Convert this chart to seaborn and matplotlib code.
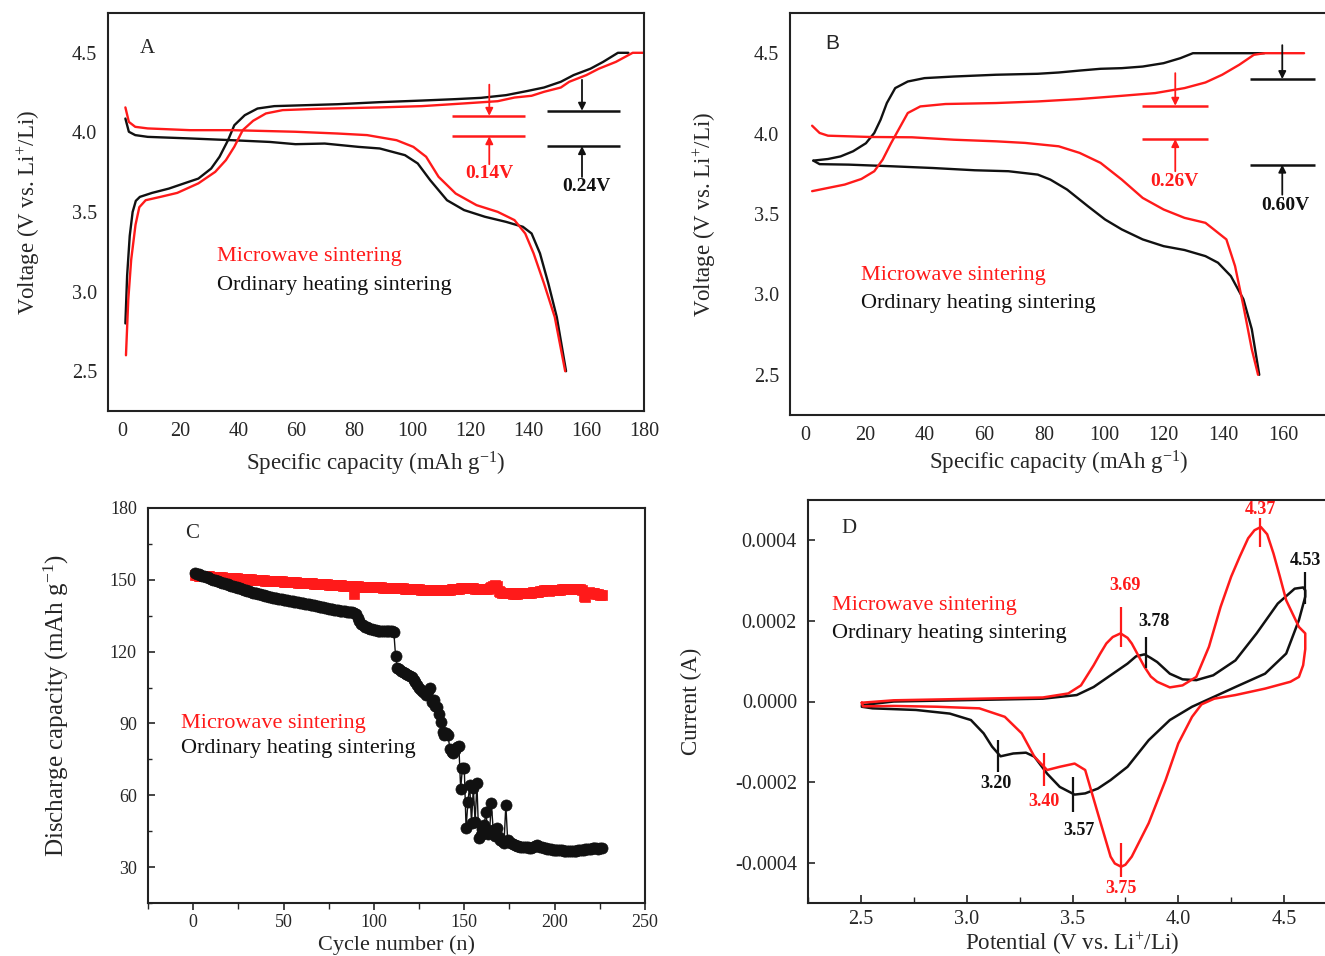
import matplotlib
matplotlib.use('Agg')
import matplotlib.pyplot as plt
import seaborn as sns
from matplotlib.ticker import MultipleLocator, FuncFormatter

# ---------------- data ----------------
# Panel A (charge/discharge, first cycle)
a_blk_chg_x = [1.0, 1.6, 2.5, 3.5, 4.6, 6.0, 10.2, 16.0, 21.8, 26.2, 30.6, 33.5, 36.4, 38.6, 42.2, 46.6, 52.4,
               59.7, 74.2, 88.8, 103.3, 115.0, 123.7, 132.4, 139.7, 145.5, 151.3, 155.7, 161.5, 165.9, 171.0, 174.6]
a_blk_chg_y = [2.80, 3.10, 3.35, 3.50, 3.57, 3.595, 3.62, 3.647, 3.683, 3.71, 3.773, 3.847, 3.95, 4.045, 4.108,
               4.15, 4.165, 4.169, 4.177, 4.19, 4.20, 4.209, 4.217, 4.234, 4.26, 4.282, 4.318, 4.36, 4.40, 4.443, 4.50, 4.50]
a_red_chg_x = [1.2, 2.0, 3.0, 4.5, 5.8, 8.0, 13.1, 18.9, 26.2, 32.0, 35.7, 38.6, 41.5, 45.1, 49.5, 55.3, 66.9,
               88.8, 103.3, 117.9, 129.5, 135.3, 141.2, 145.5, 151.3, 154.2, 160.1, 164.4, 170.3, 176.1, 180.0]
a_red_chg_y = [2.60, 2.95, 3.20, 3.42, 3.53, 3.574, 3.595, 3.62, 3.68, 3.752, 3.826, 3.91, 4.014, 4.073, 4.119,
               4.14, 4.148, 4.157, 4.165, 4.182, 4.196, 4.219, 4.23, 4.255, 4.282, 4.318, 4.36, 4.40, 4.443, 4.50, 4.50]
a_blk_dis_x = [1.0, 2.2, 4.4, 8.7, 23.3, 37.8, 50.9, 59.7, 69.8, 81.5, 88.8, 97.5, 101.9, 106.2, 112.0, 117.9,
               125.1, 132.4, 138.2, 141.2, 144.1, 147.0, 149.9, 153.1]
a_blk_dis_y = [4.087, 4.004, 3.983, 3.972, 3.962, 3.951, 3.94, 3.926, 3.93, 3.909, 3.899, 3.857, 3.805, 3.70,
               3.574, 3.512, 3.47, 3.438, 3.407, 3.365, 3.24, 3.05, 2.84, 2.50]
a_red_dis_x = [1.0, 2.2, 4.4, 8.7, 23.3, 37.8, 59.7, 74.2, 84.4, 94.6, 100.4, 104.8, 109.1, 115.0, 122.2, 129.5,
               135.3, 139.0, 141.9, 145.5, 149.2, 152.8]
a_red_dis_y = [4.157, 4.066, 4.035, 4.025, 4.014, 4.014, 4.004, 3.993, 3.983, 3.951, 3.909, 3.847, 3.721, 3.616,
               3.543, 3.501, 3.449, 3.365, 3.24, 3.05, 2.84, 2.50]

# Panel B (charge/discharge, later cycle)
b_blk_chg_x = [2.8, 7.7, 11.9, 16.1, 20.4, 23.2, 25.3, 27.4, 30.2, 34.4, 40.0, 49.8, 63.9, 77.9, 84.9, 91.9,
               98.9, 106.0, 113.0, 120.0, 125.6, 129.8, 153.7]
b_blk_chg_y = [3.832, 3.842, 3.858, 3.89, 3.94, 4.004, 4.086, 4.19, 4.283, 4.324, 4.345, 4.355, 4.366, 4.372,
               4.38, 4.392, 4.403, 4.407, 4.417, 4.438, 4.469, 4.50, 4.50]
b_red_chg_x = [2.4, 7.7, 13.3, 18.9, 23.2, 26.0, 28.8, 31.6, 34.4, 38.6, 47.0, 63.9, 77.9, 91.9, 106.0, 117.2,
               127.0, 134.0, 139.6, 145.3, 150.2, 153.7, 167.0]
b_red_chg_y = [3.642, 3.662, 3.683, 3.718, 3.766, 3.838, 3.94, 4.034, 4.128, 4.169, 4.184, 4.19, 4.20, 4.215,
               4.235, 4.252, 4.283, 4.318, 4.366, 4.428, 4.49, 4.50, 4.50]
b_blk_dis_x = [2.8, 4.9, 14.7, 28.8, 42.8, 56.8, 68.1, 77.9, 82.1, 87.7, 94.7, 100.4, 106.0, 113.0, 120.0,
               127.0, 134.0, 138.2, 142.5, 146.7, 149.5, 152.0]
b_blk_dis_y = [3.832, 3.81, 3.807, 3.797, 3.786, 3.772, 3.766, 3.745, 3.714, 3.652, 3.548, 3.466, 3.404, 3.342,
               3.30, 3.276, 3.238, 3.197, 3.114, 2.97, 2.784, 2.50]
b_red_dis_x = [2.4, 4.9, 7.7, 21.8, 35.8, 49.8, 63.9, 73.7, 84.9, 91.9, 98.9, 106.0, 113.0, 120.0, 127.0, 134.0,
               136.8, 141.0, 143.9, 146.7, 149.5, 151.6]
b_red_dis_y = [4.049, 4.004, 3.987, 3.979, 3.977, 3.962, 3.952, 3.942, 3.921, 3.88, 3.818, 3.714, 3.60, 3.528,
               3.476, 3.445, 3.404, 3.342, 3.176, 2.928, 2.659, 2.50]

# Panel C (cycling)
c_cycles = list(range(1, 227))
c_red = [152.1, 151.9, 151.8, 151.8, 151.6, 151.6, 151.5, 151.5, 151.4, 151.3,
         151.3, 151.2, 151.2, 151.1, 151.0, 151.0, 150.9, 150.9, 150.8, 150.8,
         150.7, 150.7, 150.6, 150.6, 150.5, 150.5, 150.4, 150.4, 150.3, 150.3,
         150.2, 150.2, 150.1, 150.0, 150.0, 149.9, 149.9, 149.8, 149.8, 149.7,
         149.7, 149.6, 149.6, 149.5, 149.5, 149.4, 149.4, 149.3, 149.3, 149.2,
         149.2, 149.1, 149.1, 149.0, 149.0, 148.9, 148.9, 148.8, 148.8, 148.7,
         148.7, 148.7, 148.6, 148.6, 148.5, 148.5, 148.4, 148.4, 148.3, 148.3,
         148.2, 148.2, 148.1, 148.1, 148.0, 148.0, 147.9, 147.9, 147.8, 147.8,
         147.7, 147.7, 147.6, 147.6, 147.5, 147.5, 147.4, 147.4, 144.2, 147.3,
         147.3, 147.2, 147.2, 147.1, 147.1, 147.0, 147.0, 147.0, 146.9, 146.9,
         146.9, 146.8, 146.8, 146.8, 146.7, 146.7, 146.7, 146.6, 146.6, 146.6,
         146.5, 146.5, 146.5, 146.4, 146.4, 146.4, 146.3, 146.3, 146.3, 146.2,
         146.2, 146.1, 146.1, 146.0, 146.0, 145.9, 145.9, 145.8, 145.8, 145.7,
         145.7, 145.7, 145.6, 145.6, 145.6, 145.6, 145.7, 145.7, 145.8, 145.8,
         145.9, 145.9, 146.0, 146.0, 146.1, 146.2, 146.3, 146.4, 146.5, 146.6,
         146.6, 146.5, 146.5, 146.4, 146.4, 146.3, 146.3, 146.2, 146.2, 146.1,
         146.1, 146.2, 146.3, 146.5, 146.8, 147.4, 148.0, 147.6, 145.2, 144.8,
         144.6, 144.5, 144.4, 144.4, 144.3, 144.3, 144.2, 144.2, 144.2, 144.3,
         144.3, 144.4, 144.4, 144.5, 144.5, 144.6, 144.7, 144.8, 144.9, 145.0,
         145.1, 145.2, 145.4, 145.6, 145.7, 145.6, 145.5, 145.6, 145.7, 145.8,
         145.8, 145.9, 145.9, 146.0, 146.0, 146.1, 146.1, 146.2, 146.2, 146.3,
         146.3, 146.3, 146.2, 146.0, 145.8, 143.4, 142.8, 144.6, 144.8, 144.6,
         144.4, 144.3, 144.2, 144.0, 143.6, 143.8]
c_black = [152.8, 152.6, 152.3, 152.0, 151.8, 151.5, 151.2, 151.0, 150.7, 150.4,
           150.1, 149.9, 149.6, 149.3, 149.1, 148.8, 148.6, 148.3, 148.1, 147.8,
           147.6, 147.3, 147.1, 146.8, 146.6, 146.4, 146.1, 145.9, 145.6, 145.4,
           145.2, 145.0, 144.7, 144.5, 144.3, 144.1, 143.9, 143.7, 143.5, 143.3,
           143.1, 142.9, 142.8, 142.6, 142.4, 142.3, 142.1, 142.0, 141.8, 141.7,
           141.6, 141.4, 141.3, 141.1, 141.0, 140.9, 140.7, 140.6, 140.5, 140.3,
           140.2, 140.0, 139.9, 139.7, 139.6, 139.4, 139.3, 139.1, 139.0, 138.8,
           138.7, 138.5, 138.4, 138.2, 138.0, 137.9, 137.7, 137.6, 137.4, 137.3,
           137.1, 137.0, 136.9, 136.8, 136.7, 136.6, 136.5, 136.4, 136.2, 135.6,
           134.2, 132.6, 131.6, 131.0, 130.5, 130.1, 129.8, 129.5, 129.3, 129.1,
           128.9, 128.8, 128.7, 128.7, 128.6, 128.6, 128.7, 128.7, 128.6, 128.5,
           128.4, 118.0, 113.2, 112.6, 112.0, 111.6, 111.2, 110.8, 110.4, 109.9,
           109.2, 108.3, 107.2, 106.0, 104.8, 103.8, 103.2, 102.6, 101.8, 103.6,
           105.0, 98.9, 99.8, 97.5, 96.8, 94.0, 90.5, 86.4, 85.0, 86.0,
           85.2, 79.5, 78.0, 77.5, 79.0, 80.2, 80.6, 62.8, 71.5, 71.2,
           46.2, 57.0, 64.2, 48.5, 63.0, 49.0, 65.0, 42.0, 43.5, 46.0,
           47.5, 53.2, 44.0, 45.0, 56.6, 45.5, 43.0, 46.2, 42.5, 41.5,
           40.8, 40.2, 56.0, 41.4, 40.4, 40.0, 39.6, 39.3, 39.0, 38.8,
           38.6, 38.5, 38.6, 38.4, 38.2, 38.0, 38.1, 38.4, 38.8, 39.3,
           38.9, 38.5, 38.2, 38.0, 37.8, 37.6, 37.5, 37.4, 37.3, 37.2,
           37.2, 37.1, 37.0, 37.0, 36.9, 36.9, 36.8, 36.8, 36.8, 36.8,
           36.9, 36.9, 37.0, 37.1, 37.2, 37.3, 37.4, 37.5, 37.6, 37.7,
           37.8, 37.9, 37.8, 37.7, 37.8, 37.9]

# Panel D (cyclic voltammetry, closed loops: anodic then cathodic)
d_red_v = [2.504, 2.655, 2.957, 3.36, 3.48, 3.54, 3.60, 3.63, 3.66, 3.69, 3.727, 3.76, 3.78, 3.81, 3.84, 3.87,
           3.90, 3.96, 4.02, 4.085, 4.145, 4.20, 4.25, 4.29, 4.33, 4.36, 4.39, 4.42, 4.45, 4.48, 4.51, 4.57, 4.60,
           4.60, 4.59, 4.57, 4.53, 4.41, 4.27, 4.17, 4.11, 4.065, 4.0, 3.94, 3.86, 3.78, 3.75, 3.73, 3.70,
           3.68, 3.62, 3.56, 3.51, 3.44, 3.38, 3.32, 3.26, 3.18, 3.06, 2.86, 2.655, 2.51, 2.504]
d_red_i = [-0.000003, 0.000003, 0.000006, 0.00001, 0.00002, 0.00004, 0.00009, 0.000118, 0.000144, 0.00016,
           0.000169, 0.000158, 0.000144, 0.000115, 0.000086, 0.000062, 0.000049, 0.000035, 0.00004, 0.000061,
           0.000136, 0.000235, 0.00031, 0.000359, 0.000405, 0.000425, 0.000433, 0.000415, 0.000367, 0.00031,
           0.000251, 0.000185, 0.000169,
           0.00013, 0.00009, 0.000061, 0.000049, 0.000032, 0.000016, 0.000007, -0.000007, -0.000038, -0.000104,
           -0.000195, -0.000302, -0.000385, -0.000405, -0.00041, -0.000402, -0.000385, -0.000278, -0.00017,
           -0.000154, -0.000162, -0.00017, -0.000137, -0.000079, -0.000038, -0.000017, -0.000013, -0.000011,
           -0.000012, -0.000003]
d_blk_v = [2.504, 2.655, 2.957, 3.36, 3.52, 3.60, 3.68, 3.76, 3.80, 3.84, 3.87, 3.90, 3.96, 4.02, 4.085, 4.165,
           4.27, 4.37, 4.47, 4.55, 4.59, 4.60,
           4.60, 4.57, 4.51, 4.41, 4.27, 4.17, 4.065, 3.96, 3.86, 3.76, 3.68, 3.62, 3.56, 3.51, 3.44, 3.38, 3.32,
           3.28, 3.22, 3.16, 3.12, 3.08, 3.02, 2.92, 2.76, 2.555, 2.504]
d_blk_i = [-0.000009, 0.0, 0.000003, 0.000007, 0.000016, 0.000036, 0.000065, 0.000094, 0.000112, 0.000117,
           0.000108, 0.000098, 0.000069, 0.000055, 0.000053, 0.000065, 0.000102, 0.000169, 0.000243, 0.00028,
           0.000283, 0.000276,
           0.00026, 0.000202, 0.000119, 0.000069, 0.000036, 0.000012, -0.000013, -0.000046, -0.000096,
           -0.000162, -0.000195, -0.000216, -0.000228, -0.000231, -0.000212, -0.000179, -0.000137, -0.000127,
           -0.000129, -0.000136, -0.000112, -0.000079, -0.000046, -0.00003, -0.000021, -0.000017, -0.000013]

legend_names = ['Microwave sintering', 'Ordinary heating sintering']
RED = '#ff1a1a'
BLK = '#111111'

# ---------------- style ----------------
sns.set_style('white')
plt.rcParams['font.family'] = ['Liberation Serif', 'DejaVu Serif']
plt.rcParams['mathtext.fontset'] = 'custom'
plt.rcParams['mathtext.rm'] = 'Liberation Serif'
plt.rcParams['mathtext.it'] = 'Liberation Serif:italic'
plt.rcParams['mathtext.bf'] = 'Liberation Serif:bold'
plt.rcParams['axes.edgecolor'] = '#222222'
plt.rcParams['axes.linewidth'] = 1.5

W, H = 1325, 956
fig = plt.figure(figsize=(W / 100, H / 100), dpi=100)


def box(l, t, r, b):
    return [l / W, 1 - b / H, (r - l) / W, (b - t) / H]


axA = fig.add_axes(box(108, 13, 644, 411))
axB = fig.add_axes(box(790, 13, 1328, 415))
axC = fig.add_axes(box(148, 508, 645, 903))
axD = fig.add_axes(box(808, 500, 1337, 903))


def line(ax, x, y, c, lw=1.7):
    sns.lineplot(x=x, y=y, sort=False, estimator=None, color=c, lw=lw, ax=ax)


def arrow(ax, x, y0, y1, c):
    ax.annotate('', xy=(x, y1), xytext=(x, y0),
                arrowprops=dict(arrowstyle='-|>', color=c, lw=1.3, mutation_scale=11, shrinkA=0, shrinkB=0))


# ---------------- Panel A ----------------
ax = axA
line(ax, a_blk_chg_x, a_blk_chg_y, BLK)
line(ax, a_blk_dis_x, a_blk_dis_y, BLK)
line(ax, a_red_chg_x, a_red_chg_y, RED)
line(ax, a_red_dis_x, a_red_dis_y, RED)
ax.set_xlim(-5, 180)
ax.set_ylim(2.25, 4.75)
ax.xaxis.set_major_locator(MultipleLocator(20))
ax.xaxis.set_minor_locator(MultipleLocator(10))
ax.yaxis.set_major_locator(MultipleLocator(0.5))
ax.yaxis.set_major_formatter(FuncFormatter(lambda v, p: f'{v:.1f}'))
ax.hlines([4.104, 3.976], 113.8, 139, color=RED, lw=1.8)
arrow(ax, 126.6, 4.30, 4.104, RED)
arrow(ax, 126.6, 3.80, 3.976, RED)
ax.text(126.6, 3.74, '0.14V', color=RED, fontsize=14, fontweight='bold', ha='center', va='center')
ax.hlines([4.136, 3.914], 146.5, 171.7, color=BLK, lw=1.8)
arrow(ax, 158.6, 4.33, 4.136, BLK)
arrow(ax, 158.6, 3.72, 3.914, BLK)
ax.text(160, 3.66, '0.24V', color=BLK, fontsize=14, fontweight='bold', ha='center', va='center')
ax.text(32.7, 3.218, legend_names[0], color=RED, fontsize=16, va='center')
ax.text(32.7, 3.04, legend_names[1], color=BLK, fontsize=16, va='center')
ax.text(8.7, 4.53, 'A', fontsize=15, ha='center', va='center')
ax.set_xlabel('Specific capacity (mAh g$^{-1}$)', fontsize=16.5, labelpad=6)
ax.set_ylabel('Voltage (V vs. Li$^{+}$/Li)', fontsize=16.5, labelpad=21)
ax.tick_params(axis='x', which='major', direction='in', length=7, width=1.2, labelsize=14.5, pad=8)
ax.tick_params(axis='x', which='minor', direction='in', length=4, width=1.0)
ax.tick_params(axis='y', which='major', direction='in', length=0, labelsize=14.5, pad=8)

# ---------------- Panel B ----------------
ax = axB
line(ax, b_blk_chg_x, b_blk_chg_y, BLK)
line(ax, b_blk_dis_x, b_blk_dis_y, BLK)
line(ax, b_red_chg_x, b_red_chg_y, RED)
line(ax, b_red_dis_x, b_red_dis_y, RED)
ax.set_xlim(-5, 175)
ax.set_ylim(2.25, 4.75)
ax.xaxis.set_major_locator(MultipleLocator(20))
ax.xaxis.set_minor_locator(MultipleLocator(10))
ax.yaxis.set_major_locator(MultipleLocator(0.5))
ax.yaxis.set_major_formatter(FuncFormatter(lambda v, p: f'{v:.1f}'))
ax.hlines([4.173, 3.966], 112.7, 134.7, color=RED, lw=1.8)
arrow(ax, 123.9, 4.376, 4.173, RED)
arrow(ax, 123.9, 3.766, 3.966, RED)
ax.text(123.5, 3.70, '0.26V', color=RED, fontsize=14, fontweight='bold', ha='center', va='center')
ax.hlines([4.339, 3.807], 148.8, 170.5, color=BLK, lw=1.8)
arrow(ax, 159.7, 4.55, 4.339, BLK)
arrow(ax, 159.7, 3.62, 3.807, BLK)
ax.text(160.7, 3.55, '0.60V', color=BLK, fontsize=14, fontweight='bold', ha='center', va='center')
ax.text(18.9, 3.118, legend_names[0], color=RED, fontsize=16, va='center')
ax.text(18.9, 2.945, legend_names[1], color=BLK, fontsize=16, va='center')
ax.text(9.1, 4.56, 'B', fontsize=15, ha='center', va='center', family='Liberation Sans')
ax.set_xlabel('Specific capacity (mAh g$^{-1}$)', fontsize=16.5, labelpad=3)
ax.set_ylabel('Voltage (V vs. Li$^{+}$/Li)', fontsize=16.5, labelpad=26)
ax.tick_params(axis='x', which='major', direction='in', length=7, width=1.2, labelsize=14.5, pad=8)
ax.tick_params(axis='x', which='minor', direction='in', length=4, width=1.0)
ax.tick_params(axis='y', which='major', direction='in', length=0, labelsize=14.5, pad=8)

# ---------------- Panel C ----------------
ax = axC
sns.lineplot(x=c_cycles, y=c_red, estimator=None, color=RED, lw=1.0, marker='s', markersize=6.5,
             markeredgecolor=RED, markeredgewidth=0.5, ax=ax)
sns.lineplot(x=c_cycles, y=c_black, estimator=None, color=BLK, lw=1.0, marker='o', markersize=8,
             markeredgecolor=BLK, markeredgewidth=0.5, ax=ax)
ax.set_xlim(-25, 250)
ax.set_ylim(15, 180)
ax.xaxis.set_major_locator(MultipleLocator(50))
ax.xaxis.set_minor_locator(MultipleLocator(25))
ax.yaxis.set_major_locator(MultipleLocator(30))
ax.yaxis.set_minor_locator(MultipleLocator(15))
ax.text(-0.7, 169.3, 'C', fontsize=15, ha='center', va='center')
ax.text(-6.5, 90.1, legend_names[0], color=RED, fontsize=16, va='center')
ax.text(-6.5, 79.7, legend_names[1], color=BLK, fontsize=16, va='center')
ax.set_xlabel('Cycle number (n)', fontsize=16, labelpad=3)
ax.set_ylabel('Discharge capacity (mAh g$^{-1}$)', fontsize=18, labelpad=28)
ax.tick_params(axis='x', which='major', direction='out', length=5, width=1.2, labelsize=13, pad=3, bottom=True)
ax.tick_params(axis='x', which='minor', direction='out', length=4, width=1.0, bottom=True)
ax.tick_params(axis='y', which='major', direction='in', length=5, width=1.2, labelsize=13, pad=8, left=True)
ax.tick_params(axis='y', which='minor', direction='in', length=3, width=1.0, left=True)

# ---------------- Panel D ----------------
ax = axD
line(ax, d_blk_v, d_blk_i, BLK, lw=1.8)
line(ax, d_red_v, d_red_i, RED, lw=1.8)
ax.set_xlim(2.25, 4.75)
ax.set_ylim(-0.0005, 0.0005)
ax.xaxis.set_major_locator(MultipleLocator(0.5))
ax.xaxis.set_minor_locator(MultipleLocator(0.25))
ax.yaxis.set_major_locator(MultipleLocator(0.0002))
ax.xaxis.set_major_formatter(FuncFormatter(lambda v, p: f'{v:.1f}'))
ax.yaxis.set_major_formatter(FuncFormatter(lambda v, p: f'{v:.4f}'.replace('-0.0000', '0.0000')))
peak_marks = [  # (x, y_low, y_high, label, label_y, color)
    (3.73, 0.000136, 0.000235, '3.69', 0.000287, RED),
    (3.847, 0.000082, 0.00016, '3.78', 0.000198, BLK),
    (4.387, 0.000383, 0.000456, '4.37', 0.000476, RED),
    (4.599, 0.000243, 0.000321, '4.53', 0.00035, BLK),
    (3.149, -0.000174, -0.000096, '3.20', -0.000203, BLK),
    (3.366, -0.00021, -0.000129, '3.40', -0.000249, RED),
    (3.50, -0.000274, -0.000187, '3.57', -0.000319, BLK),
    (3.73, -0.000435, -0.000352, '3.75', -0.000464, RED),
]
label_dx = {'3.78': 0.04, '3.20': -0.01, '3.40': 0.0, '3.57': 0.03, '3.69': 0.02}
for x, y0, y1, lab, ly, c in peak_marks:
    ax.vlines(x, y0, y1, color=c, lw=1.6)
    ax.text(x + label_dx.get(lab, 0.0), ly, lab, color=c, fontsize=13, fontweight='bold', ha='center', va='center')
ax.text(2.363, 0.000239, legend_names[0], color=RED, fontsize=16, va='center')
ax.text(2.363, 0.000169, legend_names[1], color=BLK, fontsize=16, va='center')
ax.text(2.444, 0.00043, 'D', fontsize=15, ha='center', va='center')
ax.set_xlabel('Potential (V vs. Li$^{+}$/Li)', fontsize=16.5, labelpad=1)
ax.set_ylabel('Current (A)', fontsize=16.5, labelpad=24)
ax.tick_params(axis='x', which='major', direction='in', length=6, width=1.2, labelsize=14.5, pad=5, bottom=True)
ax.tick_params(axis='x', which='minor', direction='in', length=4, width=1.0, bottom=True)
ax.tick_params(axis='y', which='major', direction='in', length=5, width=1.2, labelsize=14.5, pad=8, left=True)

for a in (axA, axB, axC, axD):
    a.set_facecolor('white')
    for s in a.spines.values():
        s.set_visible(True)
        s.set_linewidth(1.5)

fig.savefig('out.png', dpi=100, facecolor='white')
